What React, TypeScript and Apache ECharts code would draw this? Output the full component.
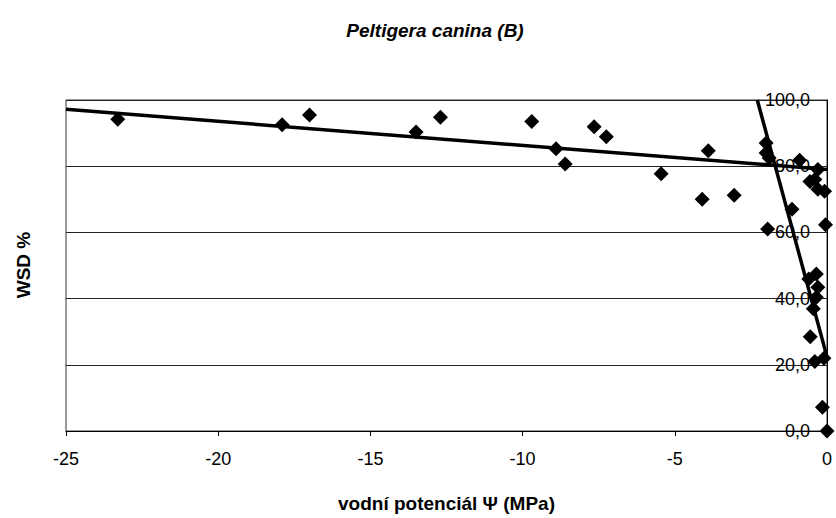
import React, { useEffect, useRef } from "react";
import * as echarts from "echarts";

const titleText = "Peltigera canina (B)";
const xAxisTitle = "vodní potenciál Ψ (MPa)";
const yAxisTitle = "WSD %";

// measured points [water potential MPa, WSD %]
const pointsX = [
  -23.3, -17.9, -17.0, -13.5, -12.7, -9.7, -8.9, -8.6, -7.65, -7.25, -5.45, -4.1, -3.9, -3.05,
  -2.0, -2.0, -1.9, -1.95, -0.9, -1.15, -0.3, -0.56, -0.4, -0.3, -0.08, -0.05,
  -0.35, -0.6, -0.3, -0.35, -0.45, -0.55, -0.4, -0.1, -0.15, 0,
];
const pointsY = [
  94.2, 92.5, 95.5, 90.3, 94.8, 93.5, 85.3, 80.7, 91.9, 88.9, 77.7, 70.0, 84.7, 71.2,
  87.0, 84.0, 82.5, 61.0, 81.8, 67.0, 79.0, 75.4, 76.0, 73.0, 72.4, 62.3,
  47.4, 45.9, 43.4, 40.4, 36.9, 28.5, 21.0, 22.0, 7.2, 0,
];

// trend lines (end points)
const trend1X = [-25, 0];
const trend1Y = [97.2, 79.0];
const trend2X = [-2.29, 0];
const trend2Y = [100, 22.4];

const xTicks = { min: -25, max: 0, interval: 5 };
const yTicks = { min: 0, max: 100, interval: 20 };

const FONT = "'Liberation Sans', Arial, sans-serif";

export default function App() {
  const ref = useRef<HTMLDivElement>(null);
  useEffect(() => {
    if (!ref.current) return;
    const chart = echarts.init(ref.current, undefined, { renderer: "svg" });
    const pts = pointsX.map((x, i) => [x, pointsY[i]]);
    chart.setOption({
      animation: false,
      backgroundColor: "#ffffff",
      grid: {
        left: 66,
        right: 9,
        top: 100,
        bottom: 85,
        show: true,
        borderColor: "#333",
        borderWidth: 1,
      },
      xAxis: {
        type: "value",
        min: xTicks.min,
        max: xTicks.max,
        interval: xTicks.interval,
        axisLine: { show: true, onZero: false, lineStyle: { color: "#000", width: 1 } },
        axisTick: { show: true, inside: false, length: 5, lineStyle: { color: "#000" } },
        axisLabel: { color: "#000", fontSize: 18, fontFamily: FONT, margin: 19 },
        splitLine: { show: false },
        name: xAxisTitle,
        nameLocation: "middle",
        nameGap: 63,
        nameTextStyle: { color: "#000", fontSize: 19, fontWeight: "bold", fontFamily: FONT },
      },
      yAxis: {
        type: "value",
        position: "right",
        min: yTicks.min,
        max: yTicks.max,
        interval: yTicks.interval,
        axisLine: { show: true, onZero: false, lineStyle: { color: "#000", width: 1 } },
        axisTick: { show: false },
        axisLabel: {
          inside: true,
          margin: 17,
          color: "#000",
          fontSize: 18,
          fontFamily: FONT,
          formatter: (v: number) => v.toFixed(1).replace(".", ","),
        },
        splitLine: { show: true, lineStyle: { color: "#222", width: 1 } },
      },
      series: [
        {
          type: "scatter",
          data: pts,
          symbol: "diamond",
          symbolSize: 15,
          itemStyle: { color: "#000", opacity: 1 },
          z: 3,
        },
        {
          type: "line",
          data: trend1X.map((x, i) => [x, trend1Y[i]]),
          symbol: "none",
          lineStyle: { color: "#000", width: 3.5 },
          z: 4,
        },
        {
          type: "line",
          data: trend2X.map((x, i) => [x, trend2Y[i]]),
          symbol: "none",
          lineStyle: { color: "#000", width: 3.5 },
          z: 4,
        },
      ],
      graphic: [
        {
          type: "text",
          x: 435,
          y: 30,
          style: {
            text: titleText,
            fill: "#000",
            font: `italic bold 19px ${FONT}`,
            textAlign: "center",
            textVerticalAlign: "middle",
          },
        },
        {
          type: "text",
          x: 23,
          y: 265,
          rotation: Math.PI / 2,
          style: {
            text: yAxisTitle,
            fill: "#000",
            font: `bold 19px ${FONT}`,
            textAlign: "center",
            textVerticalAlign: "middle",
          },
        },
      ],
    });
    return () => chart.dispose();
  }, []);
  return (
    <div
      ref={ref}
      style={{ position: "fixed", left: 0, top: 0, width: 836, height: 518 }}
    />
  );
}
